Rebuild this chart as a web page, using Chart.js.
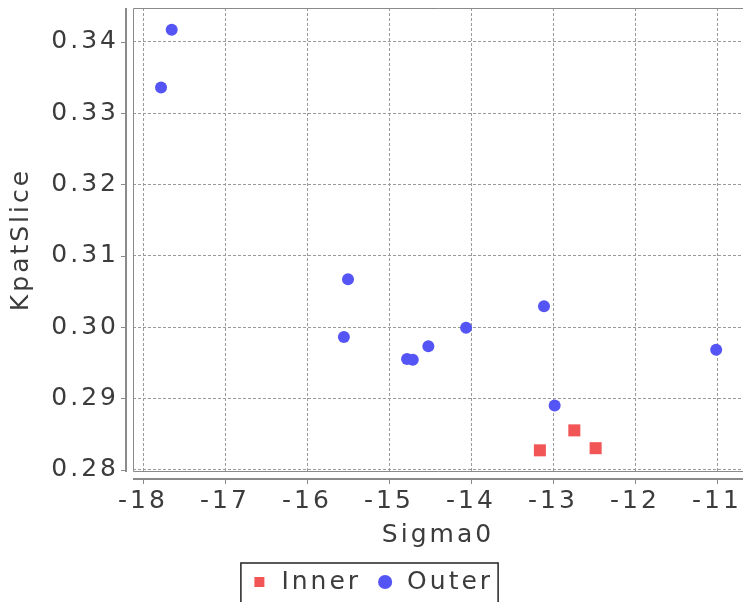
<!DOCTYPE html>
<html>
<head>
<meta charset="utf-8">
<script src="https://cdn.jsdelivr.net/npm/chart.js"></script>
<style>
html,body{margin:0;padding:0;background:#fff;}
#wrap{width:743px;height:602px;}
</style>
</head>
<body>
<div id="wrap"><canvas id="myChart" width="743" height="602"></canvas></div>
<script>
var seriesNames = ['Inner', 'Outer'];
var innerX = [-13.16, -12.74, -12.48];
var innerY = [0.2827, 0.2855, 0.2830];
var outerX = [-17.65, -17.78, -15.50, -15.55, -14.78, -14.71, -14.52, -14.06, -13.11, -12.98, -11.01];
var outerY = [0.3417, 0.3336, 0.3067, 0.2986, 0.2955, 0.2954, 0.2973, 0.2999, 0.3029, 0.2890, 0.2968];
var xTicks = [-18, -17, -16, -15, -14, -13, -12, -11];
var yTicks = [0.28, 0.29, 0.30, 0.31, 0.32, 0.33, 0.34];
var xTitle = 'Sigma0';
var yTitle = 'KpatSlice';

function pairs(xs, ys) {
    return xs.map(function (x, i) { return {x: x, y: ys[i]}; });
}

var textFont = {family: "'DejaVu Sans', sans-serif", size: 25};
var textColor = '#3c3c3c';
var gridColor = '#9a9a9a';

// wider text, like the stretched reference
var spacing = {
    id: 'spacing',
    beforeUpdate: function (chart) { chart.ctx.letterSpacing = '3px'; },
    beforeLayout: function (chart) { chart.ctx.letterSpacing = '3px'; },
    beforeDraw: function (chart) { chart.ctx.letterSpacing = '3px'; }
};

// plot outline, offset axis lines, tick marks, legend box
var frame = {
    id: 'frame',
    beforeDatasetsDraw: function (chart) {
        var c = chart.ctx, a = chart.chartArea;
        var ax = a.left - 7, ay = a.bottom + 8;
        c.save();
        c.strokeStyle = '#8a8a8a';
        c.lineWidth = 1;
        c.beginPath();
        c.moveTo(a.right + 2, a.top + 0.5);
        c.lineTo(a.left + 0.5, a.top + 0.5);
        c.lineTo(a.left + 0.5, a.bottom + 0.5);
        c.lineTo(a.right + 2, a.bottom + 0.5);
        c.stroke();

        c.lineWidth = 2;
        c.beginPath();
        c.moveTo(ax, a.top);
        c.lineTo(ax, a.bottom + 1);
        c.moveTo(a.left, ay);
        c.lineTo(a.right + 2, ay);
        c.stroke();

        c.lineWidth = 1;
        c.beginPath();
        chart.scales.y.ticks.forEach(function (t) {
            var py = Math.round(chart.scales.y.getPixelForValue(t.value)) + 0.5;
            c.moveTo(ax - 5, py);
            c.lineTo(ax, py);
        });
        chart.scales.x.ticks.forEach(function (t) {
            var px = Math.round(chart.scales.x.getPixelForValue(t.value)) + 0.5;
            c.moveTo(px, ay);
            c.lineTo(px, ay + 5);
        });
        c.stroke();
        c.restore();
    },
    afterDraw: function (chart) {
        var L = chart.legend;
        if (!L || !L.legendHitBoxes.length) return;
        var hb = L.legendHitBoxes;
        var left = hb[0].left, right = hb[0].left + hb[0].width;
        var mid = hb[0].top + hb[0].height / 2;
        hb.forEach(function (h) {
            left = Math.min(left, h.left);
            right = Math.max(right, h.left + h.width);
        });
        var c = chart.ctx;
        c.save();
        c.strokeStyle = '#222222';
        c.lineWidth = 1.5;
        c.strokeRect(left - 9, mid - 19, right - left + 14, 60);
        c.restore();
    }
};

var ctx = document.getElementById('myChart').getContext('2d');

var myChart = new Chart(ctx, {
    type: 'scatter',
    data: {
        datasets: [{
            label: seriesNames[0],
            data: pairs(innerX, innerY),
            pointStyle: 'rect',
            pointRadius: 8.5,
            pointHoverRadius: 8.5,
            backgroundColor: '#f25555',
            borderWidth: 0
        }, {
            label: seriesNames[1],
            data: pairs(outerX, outerY),
            pointStyle: 'circle',
            pointRadius: 6,
            pointHoverRadius: 6,
            backgroundColor: '#5555f5',
            borderWidth: 0
        }]
    },
    options: {
        responsive: false,
        animation: false,
        layout: {autoPadding: false, padding: {left: 0, top: 8, right: 0, bottom: -2.5}},
        plugins: {
            tooltip: {enabled: false},
            legend: {
                position: 'bottom',
                labels: {
                    usePointStyle: true,
                    boxWidth: 19,
                    boxHeight: 10,
                    padding: 14.5,
                    font: textFont,
                    color: textColor
                }
            }
        },
        scales: {
            x: {
                type: 'linear',
                min: -18.122,
                max: -10.683,
                afterBuildTicks: function (s) {
                    s.ticks = xTicks.map(function (v) { return {value: v}; });
                },
                afterFit: function (s) {
                    s.height = 84;
                    s.paddingLeft = 0;
                    s.paddingRight = 0;
                },
                border: {display: false, dash: [3, 2]},
                grid: {
                    drawTicks: false,
                    color: gridColor,
                    lineWidth: 1
                },
                ticks: {
                    padding: 15,
                    font: textFont,
                    color: textColor,
                    maxRotation: 0,
                    callback: function (v) { return String(v); }
                },
                title: {
                    display: true,
                    text: xTitle,
                    font: textFont,
                    color: textColor,
                    padding: {top: 0, bottom: 5}
                }
            },
            y: {
                type: 'linear',
                min: 0.2798,
                max: 0.34476,
                afterBuildTicks: function (s) {
                    s.ticks = yTicks.map(function (v) { return {value: v}; });
                },
                afterFit: function (s) {
                    s.width = 133;
                    s.paddingTop = 0;
                    s.paddingBottom = 0;
                },
                border: {display: false, dash: [3, 2]},
                grid: {
                    drawTicks: false,
                    color: gridColor,
                    lineWidth: 1
                },
                ticks: {
                    padding: 14,
                    font: textFont,
                    color: textColor,
                    callback: function (v) { return v.toFixed(2); }
                },
                title: {
                    display: true,
                    text: yTitle,
                    font: textFont,
                    color: textColor,
                    padding: {top: 6, bottom: 0}
                }
            }
        }
    },
    plugins: [spacing, frame]
});
</script>
</body>
</html>
